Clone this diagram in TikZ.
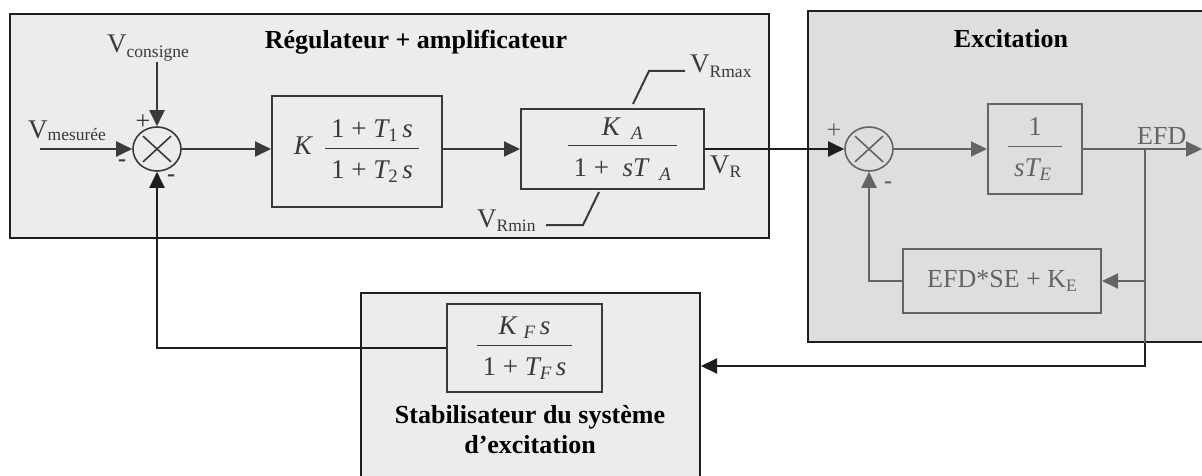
\documentclass[tikz,border=0pt]{standalone}
\usepackage{fontspec}
\setmainfont{Liberation Serif}
\usepackage{amsmath}
\usetikzlibrary{arrows.meta,shapes.geometric,calc}
\definecolor{regfill}{HTML}{ECECEC}
\definecolor{excfill}{HTML}{DEDEDE}
\definecolor{frame}{HTML}{1E1E1E}
\definecolor{ink}{HTML}{3A3A3A}
\definecolor{exink}{HTML}{646464}
\newcommand\sz[1]{\fontsize{#1}{#1}\selectfont}
\newcommand\sbs[2][4.5pt]{\raisebox{-#1}{\sz{17.5}#2}}
\newcommand\tx[1]{\text{#1}}
\newcommand\ti[1]{\text{\itshape #1}}
\newcommand\dstrut{\rule{0pt}{1em}}
\newcommand\pad{\hspace{6pt}}
\tikzset{
  region/.style={draw=frame, line width=2pt, rectangle, inner sep=0pt},
  title/.style={font=\bfseries\sz{26}, text=black, inner sep=0pt},
  lbl/.style={font=\sz{27}, text=ink, inner sep=0pt},
  exlbl/.style={font=\sz{26}, text=exink, inner sep=0pt},
  sgn/.style={font=\sz{26}, text=ink, inner sep=0pt},
  exsgn/.style={font=\sz{26}, text=exink, inner sep=0pt},
  dsh/.style={font=\bfseries\sz{24}, text=ink, inner sep=0pt},
  exdsh/.style={font=\bfseries\sz{24}, text=exink, inner sep=0pt},
  block/.style={draw=ink, line width=2pt, rectangle, inner sep=0pt, text=ink, font=\sz{27}},
  exblock/.style={draw=exink, line width=2pt, rectangle, inner sep=0pt, text=exink, font=\sz{27}},
  sig/.style={draw=ink, line width=2pt},
  exsig/.style={draw=exink, line width=2pt},
  blk/.style={draw=frame, line width=2pt},
  arr/.style={-{Triangle[length=16pt,width=15pt]}},
  sumnode/.style={ellipse, line width=1.6pt, minimum width=48pt, minimum height=44pt, inner sep=0pt},
}
\begin{document}
\begin{tikzpicture}[x=1pt,y=-1pt]
\useasboundingbox (0,0) rectangle (1202,476);
% regions
\node[region, fill=regfill, minimum width=759pt, minimum height=224pt] (reg) at (389.5,126) {};
\node[region, fill=excfill, minimum width=398pt, minimum height=331pt] (exc) at (1007,176.5) {};
\node[region, fill=regfill, minimum width=339pt, minimum height=200pt] (stab) at (530.5,393) {};
% titles
\node[title, anchor=base] (treg) at (416,49) {Régulateur + amplificateur};
\node[title, anchor=base] (texc) at (1011,48) {Excitation};
\node[title, anchor=base] (tst1) at (530,423) {Stabilisateur du système};
\node[title, anchor=base] (tst2) at (530,453) {d’excitation};
% summing junctions
\node[sumnode, draw=ink] (s1) at (157,149) {};
\draw[ink, line width=1.6pt] ($(s1.north west)!0.1!(s1.south east)$) -- ($(s1.south east)!0.1!(s1.north west)$);
\draw[ink, line width=1.6pt] ($(s1.north east)!0.1!(s1.south west)$) -- ($(s1.south west)!0.1!(s1.north east)$);
\node[sumnode, draw=exink] (s2) at (869,149) {};
\draw[exink, line width=1.6pt] ($(s2.north west)!0.1!(s2.south east)$) -- ($(s2.south east)!0.1!(s2.north west)$);
\draw[exink, line width=1.6pt] ($(s2.north east)!0.1!(s2.south west)$) -- ($(s2.south west)!0.1!(s2.north east)$);
% blocks
\node[block, minimum width=170pt, minimum height=111pt] (b1) at (357,151.5)
  {$\ti{K}\hspace{12pt}\dfrac{\pad\tx{1 + }\ti{T}_{\tx{1}}\,\ti{s}\pad}{\pad\dstrut\tx{1 + }\ti{T}_{\tx{2}}\,\ti{s}\pad}$};
\node[block, minimum width=183pt, minimum height=80pt] (b2) at (612.5,149)
  {\hspace*{20pt}$\dfrac{\ti{K}\;\,{}_{\ti{A}}}{\pad\dstrut\tx{1 +\ \ }\ti{sT}\;\,{}_{\ti{A}}\pad}$};
\node[exblock, minimum width=94pt, minimum height=89pt] (b3) at (1035,149)
  {$\dfrac{\pad\tx{1}\pad}{\pad\dstrut\ti{sT}_{\ti{E}}\,\pad}$};
\node[exblock, minimum width=198pt, minimum height=64pt, font=\sz{26}] (b4) at (1002,281)
  {EFD*SE + K\sbs{E}};
\node[block, minimum width=155pt, minimum height=88pt] (fb) at (524.5,348)
  {$\dfrac{\ti{K}\;{}_{\ti{F}}\,\ti{s}}{\pad\dstrut\tx{1 + }\ti{T}_{\ti{F}}\,\ti{s}\pad}$};
% labels
\node[lbl, anchor=base west] (lvm) at (28,139) {V\sbs[2pt]{mesurée}};
\node[lbl, anchor=base west] (lvc) at (107,53) {V\sbs{consigne}};
\node[lbl, anchor=base west] (lrmax) at (690,73) {V\sbs{Rmax}};
\node[lbl, anchor=base west] (lrmin) at (477,227) {V\sbs{Rmin}};
\node[lbl, anchor=base west] (lvr) at (710,173) {V\sbs{R}};
\node[exlbl, anchor=base west] (lefd) at (1137,145) {EFD};
% signs
\node[sgn] (p1) at (143,122) {+};
\node[dsh] (m1) at (122,163) {-};
\node[dsh] (m2) at (171,178) {-};
\node[exsgn] (p2) at (834,131) {+};
\node[exdsh] (m3) at (888,185) {-};
% coordinates
\coordinate (vmin) at (40,149);
\coordinate (vcin) at (157,62);
\coordinate (rmax0) at (633,104);
\coordinate (rmax1) at (649,71);
\coordinate (rmax2) at (685,71);
\coordinate (rmin0) at (599,192);
\coordinate (rmin1) at (583,225);
\coordinate (rmin2) at (546,225);
\coordinate (j) at (1145,149);
\coordinate (efdout) at (1202,149);
\coordinate (k) at (1145,366);
% connectors
\draw[sig,arr] (vmin) -- (s1);
\draw[sig,arr] (vcin) -- (s1);
\draw[sig,arr] (s1.east) -- (s1.east -| b1.west);
\draw[sig,arr] (b1.east |- b2) -- (b2.west);
\draw[sig] (rmax0) -- (rmax1) -- (rmax2);
\draw[sig] (rmin0) -- (rmin1) -- (rmin2);
\draw[blk,arr] (b2.east) -- (s2.west);
\draw[exsig,arr] (s2.east) -- (b3.west);
\draw[exsig,arr] (b3.east) -- (efdout);
\draw[exsig,arr] (j) |- (b4.east);
\draw[exsig,arr] (b4.west) -| (s2.south);
\draw[exsig] (j) -- (j |- exc.south);
\draw[blk,arr] (j |- exc.south) -- (k) -- (k -| stab.east);
\draw[blk,arr] (fb.west) -| (s1.south);
\end{tikzpicture}
\end{document}
